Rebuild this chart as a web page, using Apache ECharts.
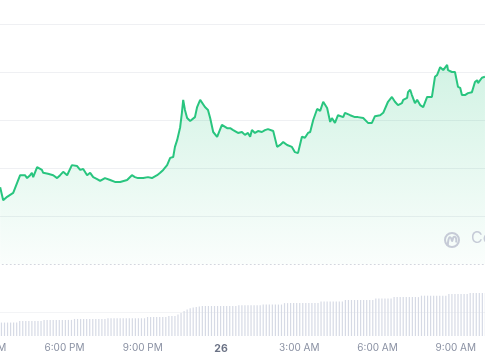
<!DOCTYPE html>
<html><head><meta charset="utf-8">
<script src="https://cdn.jsdelivr.net/npm/echarts@6/dist/echarts.min.js"></script>
<style>html,body{margin:0;padding:0;background:#fff}#c{width:485px;height:360px}</style>
</head><body><div id="c"></div><script>
// x axis: minutes since 3:00 PM on the 25th
const tickLabels = ['3:00 PM','6:00 PM','9:00 PM','26','3:00 AM','6:00 AM','9:00 AM','12:00 PM'];

const priceTimes = [
  32,39,48,55,62,71,78,82,89,94,
  101,105,108,117,121,128,131,142,154,163,
  170,177,181,186,188,197,200,209,216,223,
  232,239,246,255,262,273,285,296,308,324,
  335,342,349,361,372,381,393,400,407,416,
  423,430,434,439,446,450,453,457,462,469,
  473,480,485,492,496,503,510,515,522,531,
  533,542,545,554,561,568,572,579,588,595,
  602,607,611,618,625,634,641,648,660,664,
  669,676,683,687,692,694,703,710,717,726,
  733,740,745,752,761,768,775,784,791,795,
  802,809,821,825,837,848,855,867,878,887,
  894,906,913,917,924,933,936,940,947,956,
  959,968,970,975,979,986,991,998,1005,1014,
  1025,1032,1037,1044,1048,1051,1060,1062,1071,1078,
  1085,1090,1094,1101,1108,1117,1124,1129,1131,1140,
  1147
];
const prices = [
  66.0,63.3,64.0,64.4,64.8,66.9,68.5,68.1,68.5,67.9,
  68.5,69.0,68.1,70.2,70.2,69.6,69.0,68.8,68.5,67.9,
  68.5,69.2,69.6,68.5,68.5,70.6,71.0,70.4,69.6,69.8,
  68.5,69.0,68.1,67.7,67.3,67.9,67.5,67.1,67.1,67.5,
  68.5,68.1,67.9,67.9,68.1,67.9,68.5,69.0,69.6,70.6,
  72.1,72.3,74.4,75.8,78.5,81.5,84.2,82.1,80.4,79.8,
  80.0,80.6,82.7,84.2,84.4,82.7,82.1,80.4,77.5,76.5,
  76.3,79.0,79.4,78.3,78.3,77.9,77.9,77.3,77.5,76.9,
  77.3,76.5,77.9,77.3,77.7,77.5,77.9,78.1,77.7,77.3,
  74.4,74.8,75.4,75.2,74.8,75.2,74.4,73.3,73.1,76.5,
  76.3,77.3,77.5,80.0,82.3,81.9,83.8,82.5,79.6,80.4,
  79.4,81.0,80.6,81.5,81.0,80.6,80.6,80.4,79.4,79.4,
  80.8,81.0,81.5,81.7,83.8,84.8,85.2,83.8,83.1,83.5,
  84.2,84.6,85.8,86.3,85.2,83.5,84.2,83.1,82.7,84.8,
  84.8,89.0,89.4,91.0,90.8,90.4,91.5,90.4,90.0,90.0,
  86.9,86.7,85.2,85.2,85.6,85.8,87.9,88.3,87.7,88.8,
  89.0
];

const volumeTimes = [
  28,35,42,49,56,63,70,77,84,91,98,105,112,119,126,133,140,147,154,161,
  168,175,182,189,196,203,210,217,224,231,238,245,252,259,266,273,280,287,294,301,
  308,315,322,329,336,343,350,357,364,371,378,385,392,399,406,413,420,427,434,441,
  448,455,462,469,476,483,490,497,504,511,518,525,532,539,546,553,560,567,574,581,
  588,595,602,609,616,623,630,637,644,651,658,665,672,679,686,693,700,707,714,721,
  728,735,742,749,756,763,770,777,784,791,798,805,812,819,826,833,840,847,854,861,
  868,875,882,889,896,903,910,917,924,931,938,945,952,959,966,973,980,987,994,1001,
  1008,1015,1022,1029,1036,1043,1050,1057,1064,1071,1078,1085,1092,1099,1106,1113,1120,1127,1134,1141,
  1148
];
const volumes = [
  56,56,56,56,56,56,56,
  62,62,62,62,62,62,62,62,
  67,67,67,67,67,67,67,67,67,67,
  71,71,71,71,71,71,71,71,71,71,71,
  74,74,74,74,74,74,74,74,74,74,74,74,74,
  79,79,79,79,79,79,79,
  83,83,83,
  90,96,104,110,116,119,121,123,
  125,125,125,125,125,125,125,125,125,125,125,125,
  128,128,128,128,128,128,128,128,
  131,131,131,131,131,131,131,
  137,137,137,137,137,137,137,137,137,137,137,137,
  144,144,144,144,144,144,144,144,
  150,150,150,150,150,150,150,150,150,150,
  156,156,156,156,156,156,
  162,162,162,162,162,162,162,162,162,
  168,168,168,168,168,168,168,168,168,
  175,175,175,175,175,175,175,
  179,179,179,179,179,179
];

const GREEN = '#29c57f';
const LABEL = '#8a91a3';
const WM = '#c6cbd7';
const FONT = 'Inter, "Noto Sans", sans-serif';

const chart = echarts.init(document.getElementById('c'), null, {renderer: 'canvas'});
chart.setOption({
  animation: false,
  backgroundColor: '#ffffff',
  grid: [
    {left: -13.76, right: -49.1, top: 24, bottom: 96, containLabel: false, outerBoundsMode: 'none'},
    {left: -13.76, right: -49.1, top: 288, bottom: 24, containLabel: false, outerBoundsMode: 'none'}
  ],
  xAxis: [
    {
      type: 'value', gridIndex: 0, min: 0, max: 1260, interval: 180,
      axisLine: {show: true, onZero: false, lineStyle: {color: '#d3d6de', width: 1, type: [1, 3]}},
      axisTick: {show: false}, axisLabel: {show: false}, splitLine: {show: false}
    },
    {
      type: 'value', gridIndex: 1, min: 0, max: 1260, interval: 180,
      axisLine: {show: false}, axisTick: {show: false}, splitLine: {show: false},
      axisLabel: {
        show: true, margin: 7, color: LABEL, fontSize: 10, fontFamily: FONT,
        showMinLabel: true, showMaxLabel: true,
        formatter: function (v) {
          const s = tickLabels[Math.round(v / 180)];
          return s === '26' ? '{b|' + s + '}' : s;
        },
        rich: {b: {fontWeight: 'bold', color: '#6b7285', fontSize: 10.5, fontFamily: FONT}}
      }
    }
  ],
  yAxis: [
    {
      type: 'value', gridIndex: 0, min: 50, max: 100, interval: 10,
      axisLine: {show: false}, axisTick: {show: false}, axisLabel: {show: false},
      splitLine: {show: true, showMinLine: false, lineStyle: {color: '#eff0f3', width: 1}}
    },
    {
      type: 'value', gridIndex: 1, min: 0, max: 200, interval: 100,
      axisLine: {show: false}, axisTick: {show: false}, axisLabel: {show: false},
      splitLine: {show: true, showMinLine: false, showMaxLine: false, lineStyle: {color: '#f3f4f6', width: 1}}
    }
  ],
  series: [
    {
      type: 'line', xAxisIndex: 0, yAxisIndex: 0,
      data: priceTimes.map((t, i) => [t, prices[i]]),
      symbol: 'none', smooth: false,
      lineStyle: {color: GREEN, width: 2},
      areaStyle: {
        color: new echarts.graphic.LinearGradient(0, 0, 0, 1, [
          {offset: 0, color: 'rgba(41,197,127,0.30)'},
          {offset: 1, color: 'rgba(41,197,127,0.03)'}
        ])
      },
      z: 3
    },
    {
      type: 'bar', xAxisIndex: 1, yAxisIndex: 1,
      data: volumeTimes.map((t, i) => [t, volumes[i]]),
      barWidth: 1.2,
      itemStyle: {color: '#d6dae5'},
      z: 2
    }
  ],
  graphic: [
    {type: 'circle', shape: {cx: 452, cy: 240, r: 7}, style: {fill: 'none', stroke: WM, lineWidth: 2}, z: 10},
    {type: 'polyline', shape: {points: [[447.8, 245.5], [448.4, 240], [449.6, 237.3], [451, 238], [452.2, 241], [453.4, 237.3], [455, 236.8], [456.2, 238.6], [456.2, 242.5]], smooth: 0.4},
      style: {fill: 'none', stroke: WM, lineWidth: 2}, z: 10},
    {type: 'text', left: 471, top: 230, style: {text: 'CoinGecko', fill: WM, font: '16px ' + FONT}, z: 10}
  ]
});
</script></body></html>
